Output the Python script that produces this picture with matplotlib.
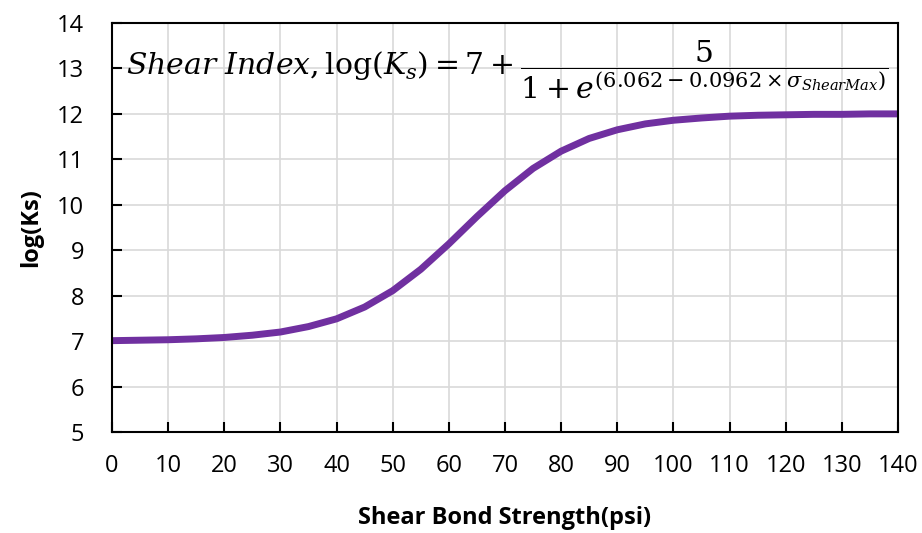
import matplotlib.pyplot as plt
import numpy as np

plt.rcParams['mathtext.fontset'] = 'dejavuserif'

# shear bond strength (psi) and log(Ks)
strength = [0, 5, 10, 15, 20, 25, 30, 35, 40, 45, 50, 55, 60, 65, 70,
            75, 80, 85, 90, 95, 100, 105, 110, 115, 120, 125, 130, 135, 140]
log_ks = [7.01, 7.02, 7.03, 7.05, 7.08, 7.13, 7.20, 7.32, 7.49, 7.75, 8.11,
          8.58, 9.14, 9.74, 10.31, 10.80, 11.18, 11.46, 11.65, 11.78, 11.86,
          11.91, 11.95, 11.97, 11.98, 11.99, 11.99, 12.00, 12.00]

xticks = list(range(0, 141, 10))
yticks = list(range(5, 15))

fig = plt.figure(figsize=(9.22, 5.33), dpi=100)
ax = fig.add_axes([112 / 922, 1 - 432 / 533, (898 - 112) / 922, (432 - 23) / 533])

ax.plot(strength, log_ks, color="#7030A0", linewidth=5, solid_capstyle="butt",
        solid_joinstyle="round")

ax.set_xlim(0, 140)
ax.set_ylim(5, 14)
ax.set_xticks(xticks)
ax.set_yticks(yticks)
ax.grid(True, color="#d9d9d9", linewidth=1.2)
ax.set_axisbelow(True)
ax.tick_params(direction="in", length=7, width=1.5, labelsize=17)
ax.tick_params(axis="y", pad=20)
ax.tick_params(axis="x", pad=16)
for lab in ax.get_xticklabels() + ax.get_yticklabels():
    lab.set_fontfamily("Open Sans")
for s in ax.spines.values():
    s.set_linewidth(1.5)

ax.set_xlabel("Shear Bond Strength(psi)", fontsize=17, fontweight="bold",
              fontfamily="Open Sans", labelpad=20)
ax.set_ylabel("log(Ks)", fontsize=17, fontweight="bold",
              fontfamily="Open Sans", labelpad=10)

formula = (r"$Shear\ Index,\mathrm{log}(K_s)=7+"
           r"\dfrac{5}{1+e^{(6.062-0.0962\times\sigma_{ShearMax})}}$")
ax.text(0.018, 0.885, formula, transform=ax.transAxes, fontsize=21.5,
        va="center", ha="left")

fig.savefig("out.png", dpi=100)
